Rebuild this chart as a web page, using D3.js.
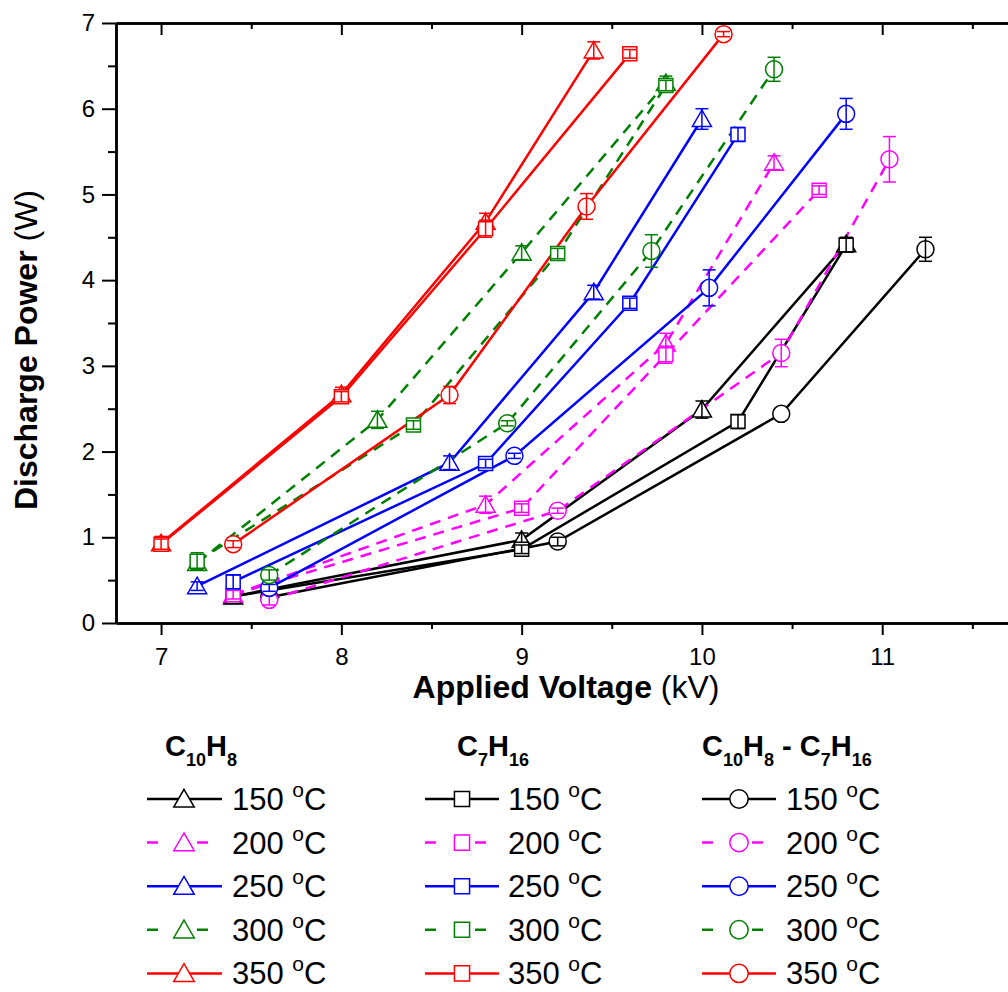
<!DOCTYPE html>
<html>
<head>
<meta charset="utf-8">
<script src="https://cdn.jsdelivr.net/npm/d3@7"></script>
<style>
  body { margin: 0; background: #fff; }
  text { font-family: "Liberation Sans", Arial, sans-serif; }
</style>
</head>
<body>
<div id="chart"></div>
<script>
// ---- data ----
let temps = ["150", "200", "250", "300", "350"];
let colors = ["#000000", "#ff00ff", "#0000ff", "#008000", "#ff0000"];
let dashed = [false, true, false, true, false];

// C10H8 (triangles)
let triVolt = [[7.4, 9.0, 10.0, 10.8], [7.4, 8.8, 9.8, 10.4], [7.2, 8.6, 9.4, 10.0], [7.2, 8.2, 9.0, 9.8], [7.0, 8.0, 8.8, 9.4]];
let triPower = [[0.31, 0.97, 2.49, 4.42], [0.33, 1.38, 3.26, 5.37], [0.43, 1.87, 3.86, 5.88], [0.70, 2.37, 4.32, 6.30], [0.93, 2.67, 4.68, 6.68]];
let triErr = [[0.03, 0.08, 0.10, 0.08], [0.03, 0.10, 0.12, 0.08], [0.05, 0.08, 0.08, 0.12], [0.08, 0.10, 0.08, 0.08], [0.08, 0.08, 0.10, 0.10]];

// C7H16 (squares)
let sqVolt = [[7.4, 9.0, 10.2, 10.8], [7.4, 9.0, 9.8, 10.65], [7.4, 8.8, 9.6, 10.2], [7.2, 8.4, 9.2, 9.8], [7.0, 8.0, 8.8, 9.6]];
let sqPower = [[0.31, 0.86, 2.35, 4.41], [0.33, 1.34, 3.13, 5.05], [0.48, 1.86, 3.73, 5.70], [0.72, 2.31, 4.31, 6.27], [0.92, 2.64, 4.60, 6.64]];
let sqErr = [[0.03, 0.05, 0.08, 0.08], [0.05, 0.05, 0.10, 0.05], [0.08, 0.05, 0.06, 0.08], [0.10, 0.05, 0.06, 0.06], [0.06, 0.06, 0.10, 0.05]];

// C10H8 - C7H16 (circles)
let cirVolt = [[7.6, 9.2, 10.44, 11.24], [7.6, 9.2, 10.44, 11.04], [7.6, 8.96, 10.04, 10.8], [7.6, 8.92, 9.72, 10.4], [7.4, 8.6, 9.36, 10.12]];
let cirPower = [[0.30, 0.95, 2.44, 4.36], [0.27, 1.31, 3.15, 5.41], [0.41, 1.95, 3.91, 5.94], [0.56, 2.33, 4.34, 6.46], [0.92, 2.66, 4.86, 6.87]];
let cirErr = [[0.03, 0.05, 0.0, 0.14], [0.06, 0.03, 0.16, 0.265], [0.04, 0.03, 0.21, 0.18], [0.06, 0.03, 0.19, 0.14], [0.04, 0.10, 0.15, 0.03]];

let xTicks = [7, 8, 9, 10, 11];
let yTicks = [0, 1, 2, 3, 4, 5, 6, 7];

// ---- layout ----
let svgWidth = 1008;
let svgHeight = 992;

let svg = d3.select("#chart")
  .append("svg")
  .attr("width", svgWidth)
  .attr("height", svgHeight);

let x = d3.scaleLinear().domain([6.75, 12]).range([116, 1062.5]);
let y = d3.scaleLinear().domain([0, 7]).range([623, 23]);

// marker shapes
let shapes = {
  tri: s => `M0,${-9 * s}L${9.5 * s},${7.5 * s}L${-9.5 * s},${7.5 * s}Z`,
  sq: s => `M${-7 * s},${-7 * s}H${7 * s}V${7 * s}H${-7 * s}Z`,
  cir: s => `M${8.5 * s},0A${8.5 * s},${8.5 * s} 0 1 1 ${-8.5 * s},0A${8.5 * s},${8.5 * s} 0 1 1 ${8.5 * s},0Z`
};

// ---- axes ----
function styleAxis(g) {
  g.selectAll(".domain").attr("stroke-width", 2.5);
  g.selectAll(".tick line").attr("stroke-width", 2);
  g.selectAll("text").attr("font-size", 24).attr("fill", "#000");
}

let minorX = d3.range(7.5, 12, 1);
let minorY = d3.range(0.5, 7, 1);

svg.append("g").attr("transform", "translate(0,623)")
  .call(d3.axisBottom(x).tickValues(minorX).tickSize(6).tickSizeOuter(0).tickFormat(""))
  .call(styleAxis);
svg.append("g").attr("transform", "translate(0,623)")
  .call(d3.axisBottom(x).tickValues(xTicks).tickSize(12).tickSizeOuter(0).tickPadding(13).tickFormat(d3.format("d")))
  .call(styleAxis);

svg.append("g").attr("transform", "translate(0,23)")
  .call(d3.axisTop(x).tickValues(minorX).tickSize(-6).tickSizeOuter(0).tickFormat(""))
  .call(styleAxis);
svg.append("g").attr("transform", "translate(0,23)")
  .call(d3.axisTop(x).tickValues(xTicks).tickSize(-12).tickSizeOuter(0).tickFormat(""))
  .call(styleAxis);

svg.append("g").attr("transform", "translate(116,0)")
  .call(d3.axisLeft(y).tickValues(minorY).tickSize(8).tickSizeOuter(0).tickFormat(""))
  .call(styleAxis);
svg.append("g").attr("transform", "translate(116,0)")
  .call(d3.axisLeft(y).tickValues(yTicks).tickSize(14).tickSizeOuter(0).tickPadding(7).tickFormat(d3.format("d")))
  .call(styleAxis);

// axis titles
let xTitle = svg.append("text")
  .attr("x", 566).attr("y", 698)
  .attr("text-anchor", "middle")
  .attr("font-size", 32);
xTitle.append("tspan").attr("font-weight", "bold").text("Applied Voltage ");
xTitle.append("tspan").text("(kV)");

let yTitle = svg.append("text")
  .attr("transform", "translate(37,350) rotate(-90)")
  .attr("text-anchor", "middle")
  .attr("font-size", 32);
yTitle.append("tspan").attr("font-weight", "bold").text("Discharge Power ");
yTitle.append("tspan").text("(W)");

// ---- series ----
let groups = [
  { shape: "tri", volt: triVolt, power: triPower, err: triErr },
  { shape: "sq", volt: sqVolt, power: sqPower, err: sqErr },
  { shape: "cir", volt: cirVolt, power: cirPower, err: cirErr }
];

svg.append("clipPath").attr("id", "plotClip")
  .append("rect").attr("x", 116).attr("y", 23).attr("width", 950).attr("height", 600);

let plot = svg.append("g").attr("clip-path", "url(#plotClip)");

let line = d3.line().x(d => x(d.v)).y(d => y(d.p));

groups.forEach(grp => {
  temps.forEach((t, i) => {
    let pts = grp.volt[i].map((v, k) => ({ v: v, p: grp.power[i][k], e: grp.err[i][k] }));
    plot.append("path")
      .datum(pts)
      .attr("d", line)
      .attr("fill", "none")
      .attr("stroke", colors[i])
      .attr("stroke-width", 2.5)
      .attr("stroke-dasharray", dashed[i] ? "11,8" : null);
  });
});

groups.forEach(grp => {
  temps.forEach((t, i) => {
    let pts = grp.volt[i].map((v, k) => ({ v: v, p: grp.power[i][k], e: grp.err[i][k] }));
    let g = plot.append("g");
    g.selectAll("path.marker")
      .data(pts)
      .enter()
      .append("path")
      .attr("class", "marker")
      .attr("transform", d => `translate(${x(d.v)},${y(d.p)})`)
      .attr("d", shapes[grp.shape](1))
      .attr("fill", "#fff")
      .attr("stroke", colors[i])
      .attr("stroke-width", 1.5);

    let eb = g.selectAll("g.err")
      .data(pts.filter(d => d.e > 0))
      .enter()
      .append("g")
      .attr("stroke", colors[i])
      .attr("stroke-width", 1.5);
    eb.append("line")
      .attr("x1", d => x(d.v)).attr("x2", d => x(d.v))
      .attr("y1", d => y(d.p - d.e)).attr("y2", d => y(d.p + d.e));
    eb.append("line")
      .attr("x1", d => x(d.v) - 6.5).attr("x2", d => x(d.v) + 6.5)
      .attr("y1", d => y(d.p + d.e)).attr("y2", d => y(d.p + d.e));
    eb.append("line")
      .attr("x1", d => x(d.v) - 6.5).attr("x2", d => x(d.v) + 6.5)
      .attr("y1", d => y(d.p - d.e)).attr("y2", d => y(d.p - d.e));
  });
});

// ---- legend ----
let legendCols = [
  { shape: "tri", x0: 147, x1: 222, mx: 184, tx: 232, title: [["C", 0], ["10", 1], ["H", 0], ["8", 1]], titleX: 165 },
  { shape: "sq", x0: 425, x1: 499, mx: 462, tx: 508, title: [["C", 0], ["7", 1], ["H", 0], ["16", 1]], titleX: 457 },
  { shape: "cir", x0: 702, x1: 776, mx: 739, tx: 786, title: [["C", 0], ["10", 1], ["H", 0], ["8", 1], [" - C", 0], ["7", 1], ["H", 0], ["16", 1]], titleX: 702 }
];
let rowY = temps.map((t, i) => 799 + i * 43.6);

legendCols.forEach(col => {
  let title = svg.append("text")
    .attr("x", col.titleX).attr("y", 756)
    .attr("font-weight", "bold")
    .attr("font-size", 29);
  let prevSub = 0;
  col.title.forEach(([s, sub]) => {
    title.append("tspan")
      .attr("dy", sub === prevSub ? 0 : (sub ? 10 : -10))
      .attr("font-size", sub ? 18 : 29)
      .text(s);
    prevSub = sub;
  });

  temps.forEach((t, i) => {
    let ly = rowY[i];
    svg.append("line")
      .attr("x1", col.x0).attr("x2", dashed[i] ? col.x0 + 61 : col.x1)
      .attr("y1", ly).attr("y2", ly)
      .attr("stroke", colors[i])
      .attr("stroke-width", 2.5)
      .attr("stroke-dasharray", dashed[i] ? "11,39" : null);
    svg.append("path")
      .attr("transform", `translate(${col.mx},${ly})`)
      .attr("d", shapes[col.shape](1.08))
      .attr("fill", "#fff")
      .attr("stroke", colors[i])
      .attr("stroke-width", 1.5);
    let lt = svg.append("text")
      .attr("x", col.tx).attr("y", ly + 11)
      .attr("font-size", 31);
    lt.append("tspan").text(t + " ");
    lt.append("tspan").attr("font-size", 21).attr("dy", -13).text("o");
    lt.append("tspan").attr("dy", 13).text("C");
  });
});
</script>
</body>
</html>
